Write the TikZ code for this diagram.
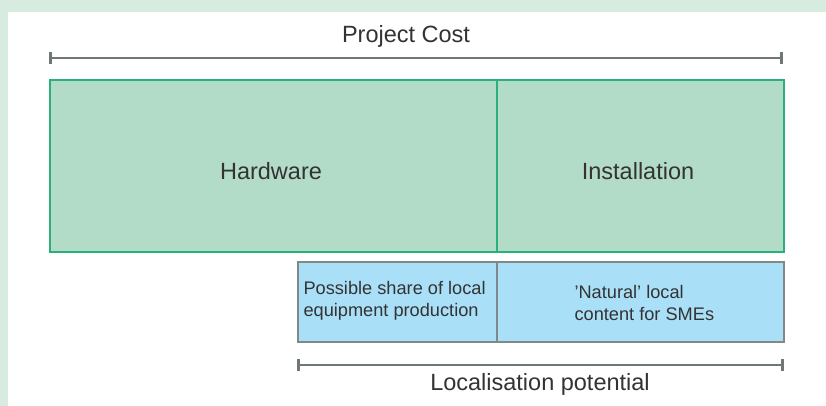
\documentclass[tikz,border=0pt]{standalone}
\usepackage{fontspec}
\setmainfont{Liberation Sans}
\usetikzlibrary{positioning}
\definecolor{bgband}{HTML}{D8EBE0}
\definecolor{hwfill}{HTML}{B2DCC8}
\definecolor{hwline}{HTML}{2BB07A}
\definecolor{lcfill}{HTML}{AADFF8}
\definecolor{lcline}{HTML}{808888}
\definecolor{barcol}{HTML}{6F7777}
\definecolor{txt}{HTML}{333333}
\begin{document}
\begin{tikzpicture}[x=1pt,y=-1pt,
  hwbox/.style={draw=hwline,fill=hwfill,line width=1.3pt},
  lcbox/.style={draw=lcline,fill=lcfill,line width=1.3pt},
  bar/.style={draw=barcol,line width=2.6pt},
  tick/.style={draw=barcol,line width=3pt},
  big/.style={text=txt,font=\fontsize{23.5}{28}\selectfont},
  small/.style={text=txt,font=\fontsize{18.2}{22}\selectfont,align=left,anchor=west}]
\fill[bgband] (0,0) rectangle (826,406);
\fill[white] (8,12) rectangle (826,406);
\useasboundingbox (0,0) rectangle (826,406);
% top bar
\coordinate (t1) at (50,58); \coordinate (t2) at (781,58);
\draw[bar] (t1) -- (t2);
\draw[tick] ([yshift=-6]t1) -- ([yshift=6]t1);
\draw[tick] ([yshift=-6]t2) -- ([yshift=6]t2);
\node[big] (pc) at (406,36) {Project Cost};
% green boxes
\draw[hwbox] (50,80) rectangle (497,252);
\draw[hwbox] (497,80) rectangle (784,252);
\node[big] (hw) at (271,171) {Hardware};
\node[big] (in) at (638,171) {Installation};
% blue boxes
\draw[lcbox] (298,262) rectangle (497,342);
\draw[lcbox] (497,262) rectangle (784,342);
\node[small] (ps) at (300,301) {Possible share of local\\equipment production};
\node[small] (nl) at (571,303) {'Natural' local\\content for SMEs};
% bottom bar
\coordinate (b1) at (298,365); \coordinate (b2) at (782,365);
\draw[bar] (b1) -- (b2);
\draw[tick] ([yshift=-6]b1) -- ([yshift=6]b1);
\draw[tick] ([yshift=-6]b2) -- ([yshift=6]b2);
\node[big] (lp) at (540,384) {Localisation potential};
\end{tikzpicture}
\end{document}
